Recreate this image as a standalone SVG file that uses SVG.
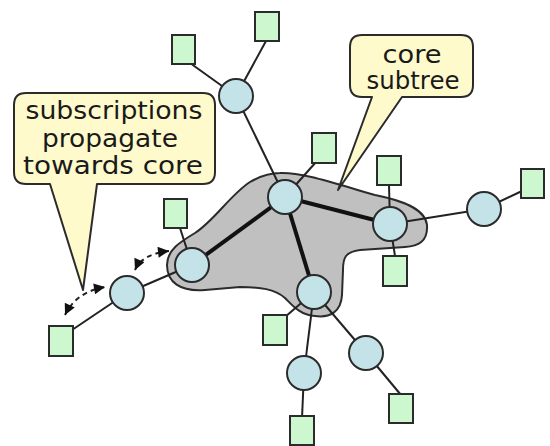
<svg xmlns="http://www.w3.org/2000/svg" width="550" height="446" viewBox="0 0 550 446">
<style>
.c{fill:#c4e3e8;stroke:#2b2b2b;stroke-width:2}
.s{fill:#ccf7cf;stroke:#2b2b2b;stroke-width:2}
.l{stroke:#222;stroke-width:2;fill:none}
.t{stroke:#111;stroke-width:4;fill:none}
.d{stroke:#222;stroke-width:2;fill:none;stroke-dasharray:5,4;marker-start:url(#ah);marker-end:url(#ah)}
.co{fill:#fffacc;stroke:#2b2b2b;stroke-width:2;stroke-linejoin:round}
.tx{font-family:"DejaVu Sans",Verdana,sans-serif;font-size:24px;fill:#1a1a1a;text-anchor:middle}
</style>
<defs>
<marker id="ah" viewBox="0 0 10 10" refX="10" refY="5" markerWidth="6.5" markerHeight="5.5" orient="auto-start-reverse" markerUnits="strokeWidth">
<path d="M0,0 L10,5 L0,10 Z" fill="#111"/>
</marker>
</defs>
<g id="core-subtree-region">
<path d="M280,173 C300,172 330,182 375,195 C400,200 425,208 427,225 C428,242 418,246 405,247 L360,250 C345,252 343,258 343,270 L342,295 C341,312 330,318 315,316 C300,315 292,305 285,298 C275,289 260,287 240,287 L205,290 C180,292 167,282 167,265 C167,250 180,242 195,233 C215,220 230,195 250,182 C262,175 270,173 280,173 Z" fill="#c0c0c0" stroke="#2b2b2b" stroke-width="2"/>
</g>
<g id="connectors">
<line class="l" x1="190" y1="63" x2="236" y2="96"/>
<line class="l" x1="266" y1="41" x2="236" y2="96"/>
<line class="l" x1="236" y1="96" x2="285" y2="197"/>
<line class="l" x1="316" y1="162" x2="285" y2="197"/>
<line class="l" x1="389" y1="185" x2="390" y2="224"/>
<line class="l" x1="390" y1="224" x2="484" y2="209"/>
<line class="l" x1="522" y1="191" x2="484" y2="209"/>
<line class="l" x1="180" y1="228" x2="192" y2="265"/>
<line class="l" x1="395" y1="256" x2="390" y2="224"/>
<line class="l" x1="285" y1="317" x2="314" y2="292"/>
<line class="l" x1="72" y1="330" x2="127" y2="293"/>
<line class="l" x1="127" y1="293" x2="192" y2="265"/>
<line class="l" x1="314" y1="292" x2="304" y2="373"/>
<line class="l" x1="304" y1="373" x2="302" y2="418"/>
<line class="l" x1="314" y1="292" x2="366" y2="353"/>
<line class="l" x1="366" y1="353" x2="401" y2="395"/>
<line class="t" x1="192" y1="265" x2="285" y2="197"/>
<line class="t" x1="285" y1="197" x2="390" y2="224"/>
<line class="t" x1="285" y1="197" x2="314" y2="292"/>
<path class="d" d="M65,315 Q76,292 105,287"/>
<path class="d" d="M135,270 Q142,254 169,251"/>
</g>
<g id="n-a"><circle class="c" cx="236" cy="96" r="17"/></g>
<g id="n-b"><circle class="c" cx="285" cy="197" r="17"/></g>
<g id="n-c"><circle class="c" cx="390" cy="224" r="17"/></g>
<g id="n-d"><circle class="c" cx="192" cy="265" r="17"/></g>
<g id="n-e"><circle class="c" cx="314" cy="292" r="17"/></g>
<g id="n-f"><circle class="c" cx="127" cy="293" r="17"/></g>
<g id="n-g"><circle class="c" cx="484" cy="209" r="17"/></g>
<g id="n-h"><circle class="c" cx="366" cy="353" r="17"/></g>
<g id="n-i"><circle class="c" cx="304" cy="373" r="17"/></g>
<g id="s1"><rect class="s" x="172" y="35" width="23" height="29"/></g>
<g id="s2"><rect class="s" x="255" y="12" width="24" height="29"/></g>
<g id="s3"><rect class="s" x="312" y="133" width="24" height="30"/></g>
<g id="s4"><rect class="s" x="377" y="156" width="24" height="29"/></g>
<g id="s5"><rect class="s" x="521" y="169" width="23" height="29"/></g>
<g id="s6"><rect class="s" x="164" y="199" width="23" height="29"/></g>
<g id="s7"><rect class="s" x="383" y="256" width="24" height="30"/></g>
<g id="s8"><rect class="s" x="263" y="315" width="24" height="30"/></g>
<g id="s9"><rect class="s" x="49" y="326" width="24" height="30"/></g>
<g id="s10"><rect class="s" x="389" y="394" width="24" height="29"/></g>
<g id="s11"><rect class="s" x="290" y="416" width="24" height="29"/></g>
<g id="callout-subscriptions">
<path class="co" d="M26,93 H203 Q215,93 215,105 V172 Q215,184 203,184 H97 L83,290 L50,184 H26 Q14,184 14,172 V105 Q14,93 26,93 Z"/>
<text class="tx" x="114" y="119" textLength="177" lengthAdjust="spacingAndGlyphs">subscriptions</text>
<text class="tx" x="110" y="147" textLength="136" lengthAdjust="spacingAndGlyphs">propagate</text>
<text class="tx" x="113" y="174" textLength="180" lengthAdjust="spacingAndGlyphs">towards core</text>
</g>
<g id="callout-core">
<path class="co" d="M362,35 H461 Q473,35 473,47 V85 Q473,97 461,97 H402 L338,190 L372,97 H362 Q350,97 350,85 V47 Q350,35 362,35 Z"/>
<text class="tx" x="412" y="63" textLength="59" lengthAdjust="spacingAndGlyphs">core</text>
<text class="tx" x="413" y="89" textLength="93" lengthAdjust="spacingAndGlyphs">subtree</text>
</g>
</svg>
